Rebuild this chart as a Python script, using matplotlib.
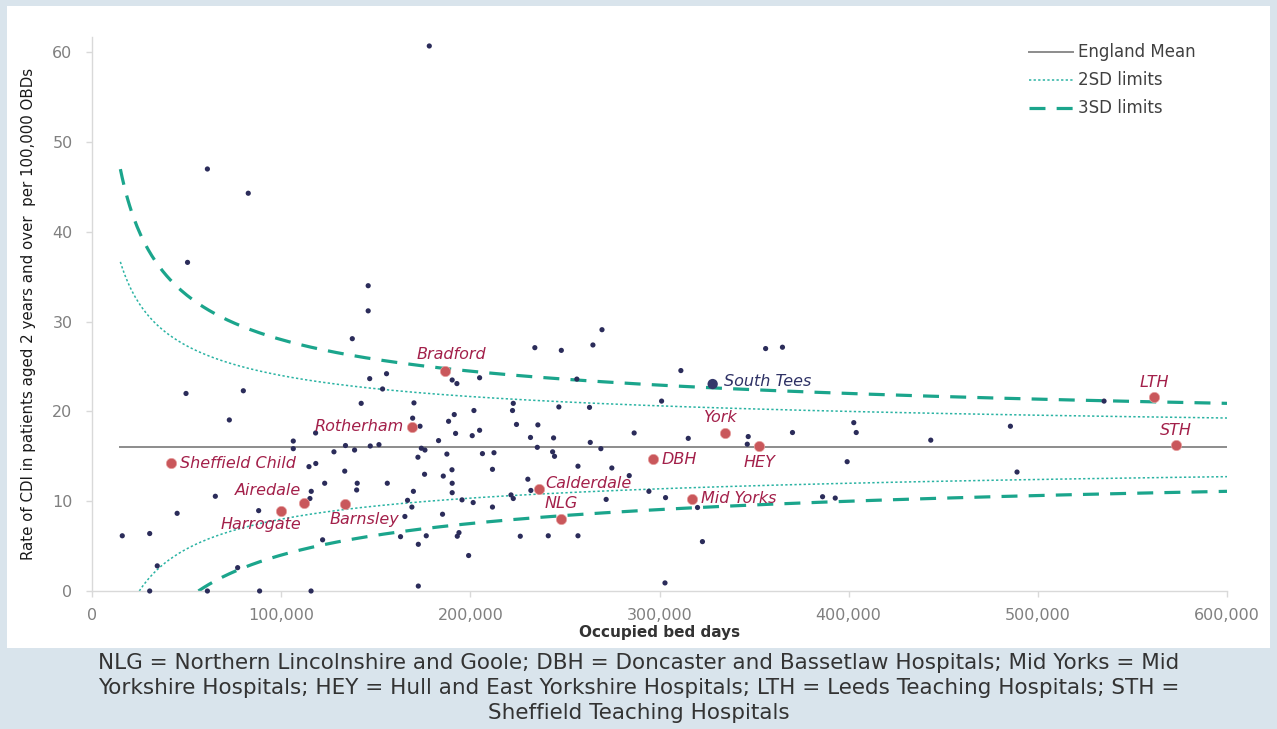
import numpy as np
import matplotlib
matplotlib.use("Agg")
import matplotlib.pyplot as plt
from matplotlib.ticker import FuncFormatter

# ---------------- data ----------------
# other trusts (occupied bed days, rate per 100,000 OBDs)
other_obd = [16000, 30500, 30500, 34500, 45000, 50500, 49700, 61000, 61000, 65200,
             72600, 77000, 80000, 82600, 88100, 88600, 106400, 106400, 114700, 115900,
             115200, 115800, 118200, 118300,
             121900, 123000, 127900, 133600, 134000, 137600, 138800, 139900, 140200, 142300,
             146000, 146000, 146800, 147100, 151700, 153600, 155700, 156100, 163100, 165400,
             166800, 169100, 169500, 169900, 170200, 172300, 172500, 172500, 173400, 174100,
             175800, 176000, 176700, 178300, 183200, 185300, 185700, 187600, 188500, 190300,
             190400, 190400, 190400, 191500, 192200, 192900, 193100, 194000, 195600, 199100,
             201000, 201500, 201900, 204900, 204900, 206400, 211700, 211700, 212500, 221500,
             222300, 222700, 222700, 224400, 226400, 230400, 231800, 232000, 234100,
             235400, 235700, 241200, 243500, 244000, 244500, 246800, 248100, 256300, 256900,
             256900, 263000, 263400, 264800, 269000, 269600, 271800, 274800, 284000, 286600,
             294400, 301100, 302900, 303200, 311300, 315200, 320100, 322700,
             346900, 346400, 356100, 365000, 370300, 386200, 392900, 399200, 402700, 404000,
             443400, 485500, 489000, 535000]
other_rate = [6.15, 6.4, 0.0, 2.8, 8.65, 36.6, 22.0, 47.0, 0.0, 10.55,
              19.05, 2.6, 22.3, 44.3, 8.95, 0.0, 16.7, 15.85, 13.85, 11.1,
              10.3, 0.0, 17.6, 14.2,
              5.7, 12.0, 15.5, 13.35, 16.2, 28.1, 15.7, 11.25, 12.0, 20.9,
              34.0, 31.2, 23.65, 16.15, 16.3, 22.5, 24.2, 12.0, 6.05, 8.3,
              10.1, 9.35, 19.25, 11.1, 20.95, 14.9, 5.2, 0.55, 18.35, 15.9,
              13.0, 15.7, 6.15, 60.7, 16.75, 8.55, 12.8, 15.25, 18.9, 13.5,
              23.5, 12.0, 10.95, 19.65, 17.55, 23.1, 6.1, 6.5, 10.15, 3.95,
              17.3, 9.85, 20.1, 23.75, 17.9, 15.3, 13.55, 9.35, 15.4, 10.7,
              20.1, 20.9, 10.3, 18.55, 6.1, 12.45, 17.1, 11.2, 27.1,
              16.0, 18.5, 6.15, 15.5, 17.05, 15.0, 20.5, 26.8, 23.6, 13.9,
              6.15, 20.45, 16.55, 27.4, 15.85, 29.1, 10.2, 13.7, 12.85, 17.6,
              11.1, 21.15, 0.9, 10.4, 24.55, 17.0, 9.3, 5.5,
              17.2, 16.35, 27.0, 27.15, 17.65, 10.5, 10.35, 14.4, 18.75, 17.65,
              16.8, 18.35, 13.25, 21.15]

# highlighted (Yorkshire & Humber) trusts
hl_names = ["Sheffield Child", "Harrogate", "Airedale", "Barnsley", "Rotherham",
            "Bradford", "Calderdale", "NLG", "DBH", "York", "HEY", "Mid Yorks",
            "LTH", "STH"]
hl_obd = [41500, 99800, 112000, 134000, 169000, 186800, 236300, 248000, 296500,
          334400, 352700, 317300, 561600, 572800]
hl_rate = [14.2, 8.95, 9.75, 9.65, 18.25, 24.55, 11.35, 8.05, 14.7, 17.55, 16.1,
           10.3, 21.6, 16.25]

st_name = "South Tees"
st_obd = 328100
st_rate = 23.05

england_mean = 16.0
x_ticks = [0, 100000, 200000, 300000, 400000, 500000, 600000]
y_ticks = [0, 10, 20, 30, 40, 50, 60]

caption = ("NLG = Northern Lincolnshire and Goole; DBH = Doncaster and Bassetlaw Hospitals; Mid Yorks = Mid\n"
           "Yorkshire Hospitals; HEY = Hull and East Yorkshire Hospitals; LTH = Leeds Teaching Hospitals; STH =\n"
           "Sheffield Teaching Hospitals")

# ---------------- figure ----------------
W, H = 1277, 729
plt.rcParams['font.family'] = ['DejaVu Sans']
fig = plt.figure(figsize=(W / 100, H / 100), dpi=100)
fig.patch.set_facecolor("#D9E4EC")

# white panel behind the chart
panel = plt.Rectangle((7 / W, 1 - 648 / H), (1270 - 7) / W, (648 - 6) / H,
                      transform=fig.transFigure, facecolor="white", edgecolor="none", zorder=-10)
fig.patches.append(panel)

ax = fig.add_axes([92 / W, 1 - 591 / H, (1227 - 92) / W, (591 - 37) / H], zorder=1)
ax.set_facecolor("none")
ax.set_xlim(0, 600000)
ax.set_ylim(0, 61.7)

# funnel limits (Poisson approximation around the England mean)
n_up = np.linspace(15000, 600000, 600)
sd_up = np.sqrt(england_mean * 100000 / n_up)
n_lo2 = np.linspace(england_mean * 100000 * 4 / england_mean ** 2, 600000, 600)
n_lo3 = np.linspace(england_mean * 100000 * 9 / england_mean ** 2, 600000, 600)

teal = "#1BA58C"
teal2 = "#2AB3A3"
ax.plot([15000, 600000], [england_mean, england_mean], color="#8C8C8C", lw=1.4,
        label="England Mean", zorder=2)
ax.plot(n_up, england_mean + 2 * sd_up, color=teal2, lw=1.1, ls=(0, (1.5, 1.5)),
        label="2SD limits", zorder=2)
ax.plot(n_lo2, england_mean - 2 * np.sqrt(england_mean * 100000 / n_lo2), color=teal2,
        lw=1.1, ls=(0, (1.5, 1.5)), zorder=2)
ax.plot(n_up, england_mean + 3 * sd_up, color=teal, lw=2.3, ls=(0, (5, 3.5)),
        label="3SD limits", zorder=2)
ax.plot(n_lo3, england_mean - 3 * np.sqrt(england_mean * 100000 / n_lo3), color=teal,
        lw=2.3, ls=(0, (5, 3.5)), zorder=2)

navy = "#2B2C5A"
ax.scatter(other_obd, other_rate, s=14, color=navy, edgecolor="none", zorder=3, clip_on=False)
ax.scatter(hl_obd, hl_rate, s=55, color="#C9575B", edgecolor="#E8A0A0", lw=0.5, zorder=4,
           clip_on=False)
ax.scatter([st_obd], [st_rate], s=55, color="#34386A", edgecolor="none", zorder=4)

# label offsets in pixels (dx, dy, ha)
offsets = {
    "Sheffield Child": (9, 0, "left"),
    "Harrogate": (-20, -14, "center"),
    "Airedale": (-3, 13, "right"),
    "Barnsley": (19, -15, "center"),
    "Rotherham": (-8, 1, "right"),
    "Bradford": (6, 16, "center"),
    "Calderdale": (6, 6, "left"),
    "NLG": (0, 15, "center"),
    "DBH": (9, 0, "left"),
    "York": (-4, 16, "center"),
    "HEY": (0, -16, "center"),
    "Mid Yorks": (9, 0, "left"),
    "LTH": (0, 15, "center"),
    "STH": (0, 15, "center"),
}
lab_col = "#A3204A"
for name, xv, yv in zip(hl_names, hl_obd, hl_rate):
    dx, dy, ha = offsets[name]
    ax.annotate(name, (xv, yv), xytext=(dx * 0.72, dy * 0.72), textcoords="offset points",
                ha=ha, va="center", fontsize=11.5, style="italic", color=lab_col, zorder=5)
ax.annotate(st_name, (st_obd, st_rate), xytext=(11 * 0.72, 3 * 0.72), textcoords="offset points",
            ha="left", va="center", fontsize=11.5, style="italic", color="#2E3165", zorder=5)

# axes styling
for s in ["top", "right"]:
    ax.spines[s].set_visible(False)
for s in ["left", "bottom"]:
    ax.spines[s].set_color("#D9D9D9")
    ax.spines[s].set_linewidth(1.0)
ax.set_xticks(x_ticks)
ax.set_yticks(y_ticks)
ax.xaxis.set_major_formatter(FuncFormatter(lambda v, p: f"{int(v):,}"))
ax.tick_params(axis="both", colors="#D9D9D9", labelcolor="#808080", labelsize=11.5,
               length=4, width=1)
ax.tick_params(axis="x", pad=8)
ax.tick_params(axis="y", pad=10)
ax.set_xlabel("Occupied bed days", fontsize=11, fontweight="bold", color="#333333", labelpad=2)
ax.set_ylabel("Rate of CDI in patients aged 2 years and over  per 100,000 OBDs", fontsize=10.8,
              color="#1A1A1A", labelpad=12)

leg = ax.legend(loc="upper left", bbox_to_anchor=(1021 / W, 1 - 35 / H),
                bbox_transform=fig.transFigure, frameon=False, fontsize=12, borderpad=0,
                handlelength=2.6, handletextpad=0.3, labelspacing=0.6)
for t in leg.get_texts():
    t.set_color("#404040")

fig.text(0.5, 1 - 688 / H, caption, ha="center", va="center", fontsize=15.5,
         color="#333333", linespacing=1.3)

fig.savefig("out.png", dpi=100, facecolor=fig.get_facecolor())
